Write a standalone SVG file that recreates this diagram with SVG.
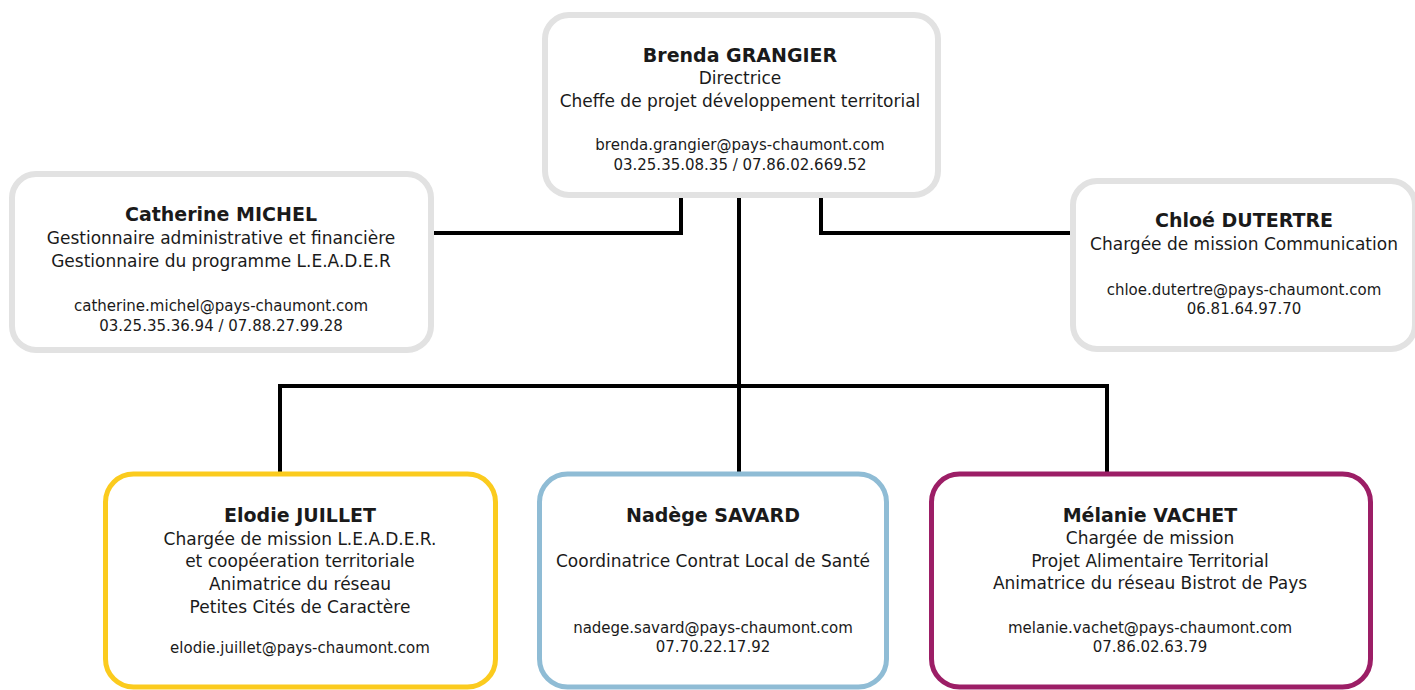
<svg xmlns="http://www.w3.org/2000/svg" width="1415" height="690" viewBox="0 0 1415 690">
<style>
  .box { fill: #ffffff; }
  .grey { stroke: #e2e2e2; stroke-width: 6; }
  .yellow { stroke: #fbcb1e; stroke-width: 5; }
  .blue { stroke: #8fbcd5; stroke-width: 5; }
  .magenta { stroke: #9c1e66; stroke-width: 5; }
  text { font-family: "DejaVu Sans", "Liberation Sans", sans-serif; fill: #1a1a1a; text-anchor: middle; }
  .name { font-size: 19px; font-weight: bold; }
  .role { font-size: 17px; }
  .contact { font-size: 15px; }
  .conn { stroke: #000000; stroke-width: 4; fill: none; }
</style>
<rect width="1415" height="690" fill="#ffffff"/>
<g id="connectors">
  <path class="conn" d="M431,233 H681 V197"/>
  <path class="conn" d="M739,197 V472"/>
  <path class="conn" d="M1070,233 H821 V197"/>
  <path class="conn" d="M280,472 V386 H1107 V472"/>
</g>
<g id="brenda">
  <rect class="box grey" x="545" y="15" width="393" height="180" rx="24"/>
  <text class="name" x="740" y="62">Brenda GRANGIER</text>
  <text class="role" x="740" y="84">Directrice</text>
  <text class="role" x="740" y="107">Cheffe de projet développement territorial</text>
  <text class="contact" x="740" y="150">brenda.grangier@pays-chaumont.com</text>
  <text class="contact" x="740" y="170">03.25.35.08.35 / 07.86.02.669.52</text>
</g>
<g id="catherine">
  <rect class="box grey" x="12" y="174" width="419" height="176" rx="24"/>
  <text class="name" x="221" y="221">Catherine MICHEL</text>
  <text class="role" x="221" y="244">Gestionnaire administrative et financière</text>
  <text class="role" x="221" y="267">Gestionnaire du programme L.E.A.D.E.R</text>
  <text class="contact" x="221" y="311">catherine.michel@pays-chaumont.com</text>
  <text class="contact" x="221" y="331">03.25.35.36.94 / 07.88.27.99.28</text>
</g>
<g id="chloe">
  <rect class="box grey" x="1073" y="181" width="342" height="168" rx="24"/>
  <text class="name" x="1244" y="227">Chloé DUTERTRE</text>
  <text class="role" x="1244" y="250">Chargée de mission Communication</text>
  <text class="contact" x="1244" y="295">chloe.dutertre@pays-chaumont.com</text>
  <text class="contact" x="1244" y="314">06.81.64.97.70</text>
</g>
<g id="elodie">
  <rect class="box yellow" x="105.5" y="474" width="390" height="213" rx="28"/>
  <text class="name" x="300" y="522">Elodie JUILLET</text>
  <text class="role" x="300" y="545">Chargée de mission L.E.A.D.E.R.</text>
  <text class="role" x="300" y="567">et coopéeration territoriale</text>
  <text class="role" x="300" y="590">Animatrice du réseau</text>
  <text class="role" x="300" y="613">Petites Cités de Caractère</text>
  <text class="contact" x="300" y="653">elodie.juillet@pays-chaumont.com</text>
</g>
<g id="nadege">
  <rect class="box blue" x="539.5" y="474" width="347" height="213" rx="28"/>
  <text class="name" x="713" y="522">Nadège SAVARD</text>
  <text class="role" x="713" y="567">Coordinatrice Contrat Local de Santé</text>
  <text class="contact" x="713" y="633">nadege.savard@pays-chaumont.com</text>
  <text class="contact" x="713" y="652">07.70.22.17.92</text>
</g>
<g id="melanie">
  <rect class="box magenta" x="931.5" y="474" width="439" height="213" rx="28"/>
  <text class="name" x="1150" y="522">Mélanie VACHET</text>
  <text class="role" x="1150" y="544">Chargée de mission</text>
  <text class="role" x="1150" y="567">Projet Alimentaire Territorial</text>
  <text class="role" x="1150" y="589">Animatrice du réseau Bistrot de Pays</text>
  <text class="contact" x="1150" y="633">melanie.vachet@pays-chaumont.com</text>
  <text class="contact" x="1150" y="652">07.86.02.63.79</text>
</g>
</svg>
